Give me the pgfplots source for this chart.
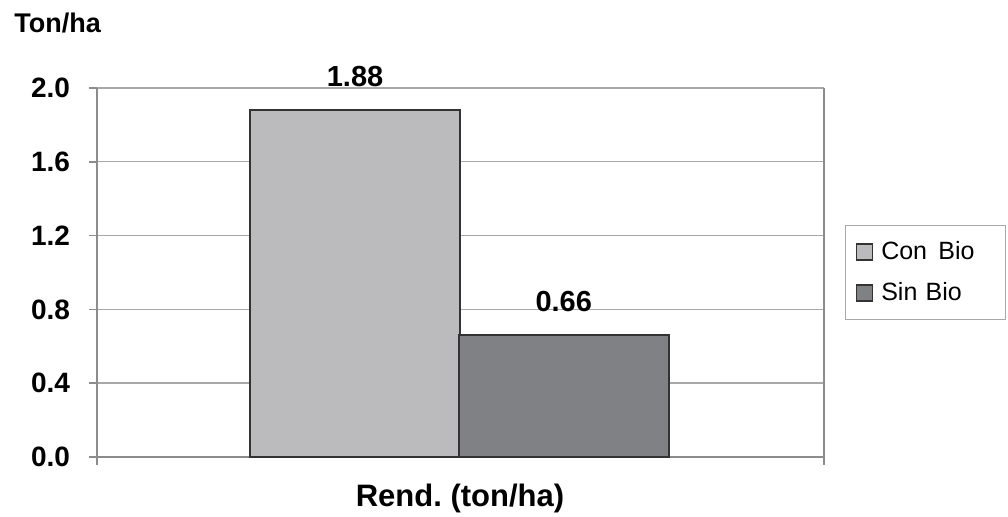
\documentclass[border=0pt]{standalone}
\usepackage{pgfplots}
\pgfplotsset{compat=1.18}
\usepackage{fontspec}
\setmainfont{Liberation Sans}

\definecolor{conbio}{HTML}{BBBBBD}
\definecolor{sinbio}{HTML}{808184}
\definecolor{barline}{HTML}{333333}
\definecolor{gridc}{HTML}{A8A8A8}
\definecolor{axisc}{HTML}{8C8C8C}

\begin{document}
\frenchspacing
\begin{tikzpicture}
\path[use as bounding box] (-48.5pt,-30pt) rectangle (455.5pt,228.5pt);
\begin{axis}[
  at={(0,0)}, anchor=south west,
  scale only axis,
  width=363.5pt, height=184.5pt,
  xmin=0, xmax=1, ymin=0, ymax=2,
  axis line style={axisc, line width=0.8pt},
  axis x line*=bottom,
  axis y line*=left,
  xtick={0,1}, xticklabels={},
  ytick={0,0.4,0.8,1.2,1.6,2.0},
  yticklabel style={font=\fontsize{14}{16}\selectfont\bfseries, /pgf/number format/fixed, /pgf/number format/fixed zerofill, /pgf/number format/precision=1, xshift=-6pt},
  /pgf/number format/assume math mode=true,
  tick align=outside,
  major tick length=4pt,
  tick style={axisc, line width=0.8pt},
  ymajorgrids,
  grid style={gridc, line width=0.7pt},
  ybar, bar shift=0pt, bar width=0.2888,
  nodes near coords,
  every node near coord/.append style={font=\fontsize{14.5}{16}\selectfont\bfseries, /pgf/number format/fixed, /pgf/number format/fixed zerofill, /pgf/number format/precision=2, yshift=8pt},
  legend style={at={(1.029,0.629)}, anchor=north west, draw=gridc, line width=0.6pt,
    font=\fontsize{12.5}{15}\selectfont, row sep=6pt, inner xsep=5pt, inner ysep=6pt,
    nodes={inner xsep=4pt, text width=53pt, align=left}},
  legend cell align=left,
  legend image code/.code={\draw[#1, draw=barline, line width=0.8pt] (0pt,-4pt) rectangle (8pt,4pt);},
  clip=false,
]
\addplot[fill=conbio, draw=barline, line width=0.8pt] coordinates {(0.355,1.88)};
\addplot[fill=sinbio, draw=barline, line width=0.8pt] coordinates {(0.642,0.66)};
\legend{Con\ \kern1.5pt Bio, Sin Bio}
\draw[axisc, line width=0.8pt] (rel axis cs:1,0) -- (rel axis cs:1,1);
\node[font=\fontsize{13.5}{15}\selectfont\bfseries] at (rel axis cs:-0.054,1.175) {Ton/ha};
\node[font=\fontsize{15.5}{17}\selectfont\bfseries] at (rel axis cs:0.4993,-0.112) {Rend. (ton/ha)};
\end{axis}
\end{tikzpicture}
\end{document}
